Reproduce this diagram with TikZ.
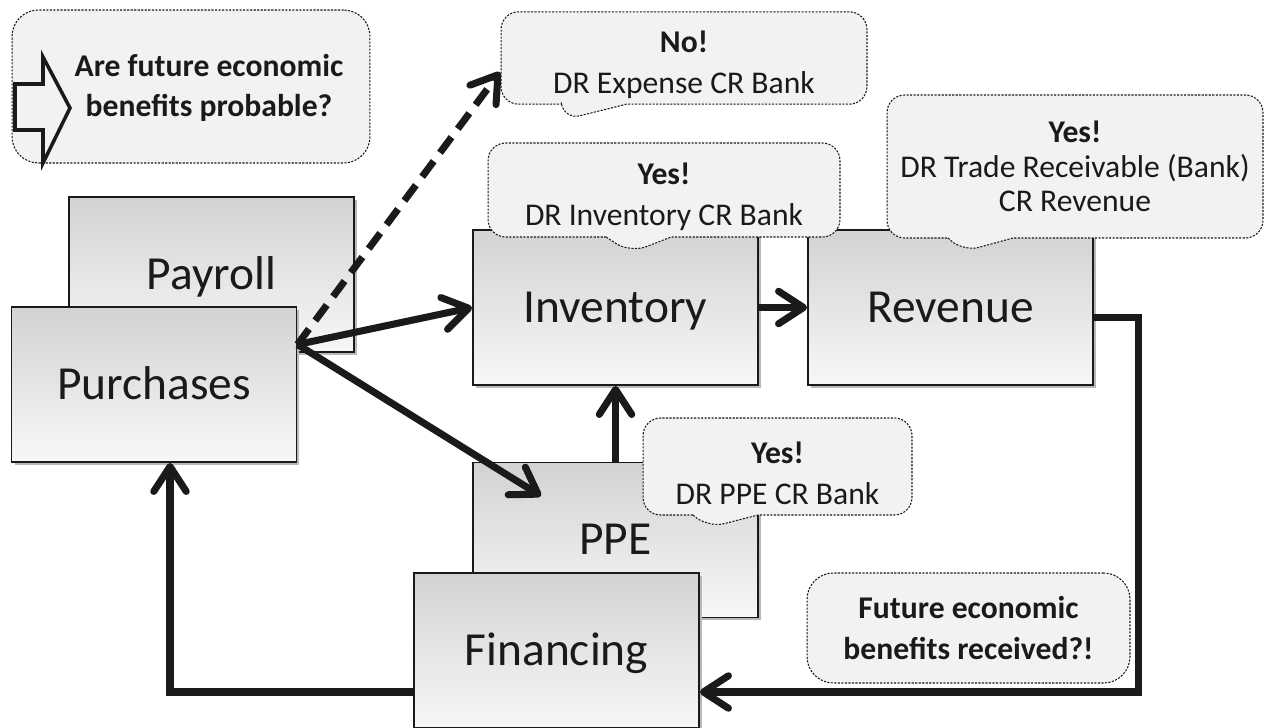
\documentclass[tikz,border=0pt]{standalone}
\usepackage{fontspec}
\setmainfont{Carlito}
\usetikzlibrary{arrows.meta,shapes.callouts,shadows,calc}
\definecolor{bubble}{RGB}{241,242,244}
\definecolor{ink}{RGB}{26,26,26}
\newcommand{\liftup}{\rule{0pt}{20pt}}

\begin{document}
\begin{tikzpicture}[x=0.02cm,y=-0.02cm,
    acct/.style={rectangle,draw=ink,line width=1.1pt,minimum width=5.7cm,minimum height=3.1cm,
      top color=gray!35,bottom color=gray!6,text height=18pt,text depth=1pt,
      general shadow={fill=gray!55,shadow xshift=0.6mm,shadow yshift=-0.6mm},
      font=\fontsize{27}{32}\selectfont,text=ink},
    say/.style={rectangle callout,draw=ink,dash pattern=on 1.2pt off 0.8pt,line width=0.6pt,
      fill=bubble,rounded corners=10pt,callout pointer width=1.3cm,align=center,
      font=\fontsize{18}{23}\selectfont,text=ink},
    note/.style={rectangle,draw=ink,dash pattern=on 1.2pt off 0.8pt,line width=0.6pt,
      fill=bubble,rounded corners=15pt,align=center,font=\bfseries\fontsize{18}{23}\selectfont,text=ink},
    flow/.style={draw=ink,line width=4pt,-{Straight Barb[length=0.5cm,width=0.65cm,round]}}]

      \useasboundingbox (0,0) rectangle (1267,727);

      % accounts
      \node[acct] (pay) at (211.5,274.5) {Payroll};
      \node[acct] (pur) at (154,384.5) {Purchases};
      \node[acct] (inv) at (615.5,307.5) {Inventory};
      \node[acct] (rev) at (950.5,307.5) {Revenue};
      \node[acct] (ppe) at (615.5,540) {PPE};
      \node[acct] (fin) at (556.5,650.5) {Financing};

      % arrows
      \coordinate (hub) at ($(pur.east)+(0,-40)$);
      \coordinate (noin) at (500,72);
      \coordinate (ppein) at (541,496);
      \coordinate (rc) at (1138,692);
      \coordinate (lc) at (170,692);
      \draw[flow,dash pattern=on 11pt off 6pt] (hub) -- (noin); % expense
      \draw[flow] (hub) -- (inv.west);
      \draw[flow] (hub) -- (ppein);
      \draw[flow] (inv.east) -- (rev.west);
      \draw[flow] (ppe.north) -- (inv.south);
      \draw[flow] ($(rev.east)+(0,10)$) -| (rc) -- (fin.east |- rc);
      \draw[flow] (fin.west |- rc) -| (lc |- pur.south);

      % question
      \node[note,minimum width=7.16cm,minimum height=3.06cm] (ask) at (191,86.5) {};
      \draw[ink,line width=2pt,fill=bubble] (15,84) -- (43,84) -- (43,57) -- (70,108)
        -- (43,163) -- (43,130) -- (15,130) -- cycle;
      \node[align=center,font=\bfseries\fontsize{18}{23}\selectfont,text=ink] (askt) at (209,88)
        {Are future economic\\benefits probable?};

      % entries
      \node[say,minimum width=7.32cm,minimum height=1.8cm,callout absolute pointer={(563,120)}]
        (noexp) at (684,58) {\liftup\textbf{No!}\\DR Expense CR Bank};
      \node[say,minimum width=7.04cm,minimum height=1.88cm,callout absolute pointer={(630,253)}]
        (invsay) at (664,190) {\liftup\textbf{Yes!}\\DR Inventory CR Bank};
      \node[say,minimum width=7.52cm,minimum height=2.86cm,callout absolute pointer={(962,252)},
        font=\fontsize{18}{19.5}\selectfont]
        (revsay) at (1075,166.5) {\textbf{Yes!}\\DR Trade Receivable (Bank)\\CR Revenue};
      \node[say,minimum width=5.38cm,minimum height=1.94cm,callout absolute pointer={(707,528)}]
        (ppesay) at (777.5,466.5) {\liftup\textbf{Yes!}\\DR PPE CR Bank};
      \node[note,minimum width=6.46cm,minimum height=2.2cm] (gotit) at (968.5,628)
        {Future economic\\benefits received?!};

\end{tikzpicture}
\end{document}
